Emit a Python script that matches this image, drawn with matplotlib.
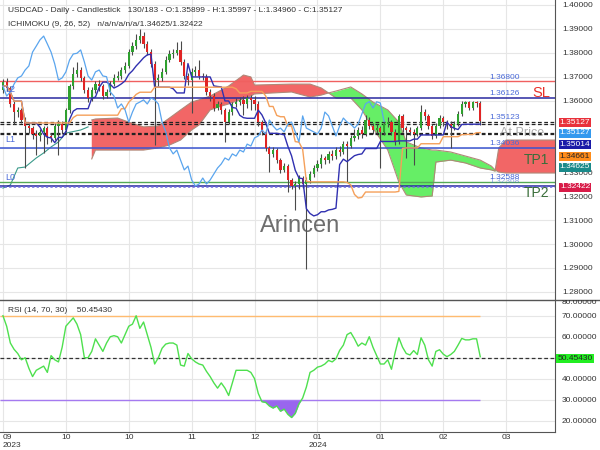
import numpy as np
import pandas as pd
import matplotlib
matplotlib.use("Agg")
import matplotlib.pyplot as plt
from matplotlib.lines import Line2D
from matplotlib.transforms import Bbox, TransformedBbox

plt.rcParams['font.family'] = ['Liberation Sans', 'DejaVu Sans']

# ---- data ----
first_open = 1.3644
closes = [
    1.3678, 1.3653, 1.3586, 1.3552, 1.3561, 1.3519, 1.3494, 1.3485, 1.3460, 1.3452,
    1.3469, 1.3485, 1.3452, 1.3444, 1.3494, 1.3502, 1.3477, 1.3561, 1.3661, 1.3711,
    1.3728, 1.3695, 1.3644, 1.3611, 1.3644, 1.3669, 1.3661, 1.3619, 1.3636, 1.3669,
    1.3695, 1.3703, 1.3728, 1.3745, 1.3803, 1.3828, 1.3854, 1.3870, 1.3837, 1.3803,
    1.3753, 1.3686, 1.3695, 1.3720, 1.3770, 1.3795, 1.3798, 1.3812, 1.3762, 1.3703,
    1.3686, 1.3720, 1.3728, 1.3703, 1.3700, 1.3636, 1.3619, 1.3569, 1.3586, 1.3561,
    1.3510, 1.3552, 1.3586, 1.3594, 1.3603, 1.3586, 1.3611, 1.3603, 1.3586, 1.3510,
    1.3469, 1.3402, 1.3377, 1.3393, 1.3351, 1.3310, 1.3326, 1.3268, 1.3243, 1.3251,
    1.3276, 1.3251, 1.3268, 1.3293, 1.3318, 1.3335, 1.3360, 1.3351, 1.3377, 1.3368,
    1.3393, 1.3385, 1.3418, 1.3410, 1.3444, 1.3452, 1.3477, 1.3460, 1.3519, 1.3494,
    1.3477, 1.3485, 1.3469, 1.3502, 1.3510, 1.3469, 1.3427, 1.3536, 1.3485, 1.3477,
    1.3469, 1.3460, 1.3485, 1.3552, 1.3536, 1.3494, 1.3452, 1.3494, 1.3527, 1.3510,
    1.3502, 1.3485, 1.3502, 1.3544, 1.3586, 1.3596, 1.3569, 1.3595, 1.35899, 1.35127,
]
highs = [
    1.3690, 1.3695, 1.3660, 1.3600, 1.3575, 1.3570, 1.3530, 1.3510, 1.3495, 1.3475,
    1.3480, 1.3495, 1.3492, 1.3465, 1.3505, 1.3520, 1.3515, 1.3570, 1.3670, 1.3740,
    1.3760, 1.3740, 1.3705, 1.3655, 1.3655, 1.3680, 1.3685, 1.3670, 1.3650, 1.3680,
    1.3710, 1.3725, 1.3740, 1.3760, 1.3815, 1.3845, 1.3880, 1.3898, 1.3885, 1.3850,
    1.3815, 1.3765, 1.3710, 1.3735, 1.3785, 1.3810, 1.3815, 1.3845, 1.3850, 1.3775,
    1.3715, 1.3735, 1.3745, 1.3770, 1.3715, 1.3710, 1.3650, 1.3630, 1.3600, 1.3595,
    1.3570, 1.3565, 1.3595, 1.3610, 1.3615, 1.3620, 1.3625, 1.3625, 1.3620, 1.3600,
    1.3520, 1.3475, 1.3410, 1.3405, 1.3400, 1.3360, 1.3340, 1.3335, 1.3275, 1.3265,
    1.3290, 1.3285, 1.3280, 1.3305, 1.3330, 1.3350, 1.3375, 1.3370, 1.3390, 1.3395,
    1.3405, 1.3410, 1.3430, 1.3430, 1.3455, 1.3480, 1.3490, 1.3495, 1.3540, 1.3530,
    1.3505, 1.3500, 1.3495, 1.3515, 1.3530, 1.3520, 1.3480, 1.3545, 1.3545, 1.3495,
    1.3490, 1.3480, 1.3495, 1.3580, 1.3565, 1.3545, 1.3500, 1.3505, 1.3540, 1.3535,
    1.3520, 1.3515, 1.3515, 1.3555, 1.3597, 1.3599, 1.3598, 1.3599, 1.3598, 1.35997,
]
lows = [
    1.3630, 1.3640, 1.3575, 1.3500, 1.3530, 1.3505, 1.3318, 1.3465, 1.3440, 1.3372,
    1.3430, 1.3380, 1.3420, 1.3425, 1.3435, 1.3372, 1.3460, 1.3470, 1.3550, 1.3650,
    1.3700, 1.3680, 1.3630, 1.3595, 1.3600, 1.3630, 1.3640, 1.3605, 1.3610, 1.3625,
    1.3660, 1.3685, 1.3690, 1.3715, 1.3735, 1.3790, 1.3815, 1.3840, 1.3820, 1.3790,
    1.3740, 1.3414, 1.3660, 1.3680, 1.3710, 1.3760, 1.3780, 1.3790, 1.3750, 1.3690,
    1.3665, 1.3548, 1.3705, 1.3690, 1.3685, 1.3625, 1.3600, 1.3555, 1.3560, 1.3545,
    1.3427, 1.3500, 1.3540, 1.3575, 1.3580, 1.3540, 1.3570, 1.3560, 1.3560, 1.3495,
    1.3455, 1.3390, 1.3301, 1.3365, 1.3340, 1.3295, 1.3300, 1.3218, 1.3230, 1.3142,
    1.3230, 1.3235, 1.2895, 1.3255, 1.3280, 1.3305, 1.3320, 1.3335, 1.3340, 1.3350,
    1.3355, 1.3370, 1.3375, 1.3259, 1.3400, 1.3430, 1.3440, 1.3445, 1.3450, 1.3480,
    1.3460, 1.3465, 1.3318, 1.3455, 1.3490, 1.3455, 1.3415, 1.3420, 1.3470, 1.3360,
    1.3455, 1.33325, 1.3450, 1.3475, 1.3520, 1.3480, 1.3440, 1.3445, 1.3485, 1.3495,
    1.3480, 1.3403, 1.3475, 1.3495, 1.3535, 1.3575, 1.3560, 1.3560, 1.3575, 1.34960,
]
rsi = [
    70, 65, 57, 54, 52, 49, 50, 45, 41, 44,
    45, 46, 43, 51, 49, 48, 55, 65, 67, 69,
    66, 61, 50, 50, 53, 59, 56, 53, 57, 60,
    60.5, 60, 57, 61, 65, 66, 70, 64, 67, 61,
    55, 47, 50, 54.5, 56.5, 57, 57, 56, 46.5, 46,
    52, 49.5, 48, 47, 46.5, 43.5, 41, 38, 35.5, 38,
    35.5, 32, 38, 44, 44, 44, 44, 43, 40, 33,
    29, 28.7, 27, 26, 27, 24.5, 25.5, 23, 21.5, 23.5,
    28, 30.8, 36, 43, 44, 45.5, 46, 47, 48.7, 48,
    49.5, 53.5, 56, 61, 62, 59, 55.5, 57, 56, 60,
    55, 51, 47, 47, 49, 44.5, 52.5, 59.5, 55, 52,
    51.3, 53.4, 51.5, 59.5, 56, 49, 46, 53, 53.8, 51.7,
    50.5, 51.5, 53, 56, 59.2, 58.5, 58.5, 59, 59, 50.4543,
]

# leading spans (cloud), read at bar positions incl. the 26 bars projected ahead
cloud_idx = [24, 25, 31, 34, 38, 42, 45, 48, 51, 53, 56, 59, 61, 64, 65, 67, 68, 78, 83,
             86, 88, 90, 94, 97, 100, 104, 107, 109, 113, 116, 117, 121, 125, 129, 132,
             133, 134, 136, 150]
lead1 = [1.3519, 1.3523, 1.3527, 1.3510, 1.3490, 1.3494, 1.3527, 1.3561, 1.3594, 1.3603,
         1.3619, 1.3644, 1.3661, 1.3695, 1.3707, 1.3699, 1.3665, 1.3669, 1.3669, 1.3653,
         1.3632, 1.3611, 1.3611, 1.3561, 1.3485, 1.3393, 1.3259, 1.3205, 1.3197, 1.3201,
         1.3343, 1.3351, 1.3339, 1.3318, 1.3310, 1.3305, 1.3402, 1.3435, 1.3435]
lead2 = [1.3356, 1.3393, 1.3393, 1.3393, 1.3393, 1.3402, 1.3414, 1.3435, 1.3477, 1.3498,
         1.3561, 1.3577, 1.3586, 1.3603, 1.3607, 1.3619, 1.3628, 1.3636, 1.3615, 1.3623,
         1.3632, 1.3640, 1.3657, 1.3628, 1.3594, 1.3561, 1.3510, 1.3427, 1.3402, 1.3393,
         1.3393, 1.3385, 1.3368, 1.3351, 1.3326, 1.3310, 1.3301, 1.3297, 1.3297]
pre_idx = [0, 2, 4, 6, 9, 11, 13, 15, 17, 21, 23]
pre_lead1 = [1.3234, 1.3247, 1.3318, 1.3322, 1.3360, 1.3381, 1.3406, 1.3427, 1.3464,
             1.3477, 1.3490]

tick_idx = [0, 17, 34, 51, 68, 85, 102, 119, 136]
tick_labels = ['09\n2023', '10', '10', '11', '12', '01\n2024', '01', '02', '03']

# ---- derived series ----
c = np.array(closes)
o = np.array([first_open] + closes[:-1])
h = np.array(highs)
l = np.array(lows)
idx = np.arange(len(c))
hs, ls = pd.Series(h), pd.Series(l)
tenkan = (hs.rolling(9, min_periods=1).max() + ls.rolling(9, min_periods=1).min()) / 2
kijun = (hs.rolling(26, min_periods=1).max() + ls.rolling(26, min_periods=1).min()) / 2

fig = plt.figure(figsize=(6, 4.5), dpi=100)
ax = fig.add_axes([0, 1 - 300 / 450, 555 / 600, 300 / 450])
ax2 = fig.add_axes([0, 18 / 450, 555 / 600, 132 / 450])

xlim = (-0.8, 149.2)
for a in (ax, ax2):
    a.set_xlim(*xlim)
    a.set_xticks(tick_idx)
    a.grid(True, color='#e6e6e6', lw=0.8)
    a.set_axisbelow(True)
    a.spines['top'].set_visible(False)
    a.spines['left'].set_visible(False)
    a.spines['right'].set_color('#555555')
    a.yaxis.tick_right()
    a.tick_params(axis='y', length=0, pad=5, labelsize=6, labelcolor='#333333')
ax.spines['bottom'].set_visible(False)
ax.tick_params(axis='x', length=0, labelbottom=False)
ax2.spines['bottom'].set_color('#555555')
ax2.set_xticklabels(tick_labels)
ax2.tick_params(axis='x', length=0, pad=1.5, labelsize=6, labelcolor='#333333')
ax2.get_xticklabels()[0].set_ha('left')

# ---- price panel ----
ax.set_ylim(1.27657, 1.40209)
yt = np.arange(1.28, 1.4001, 0.01)
ax.set_yticks(yt)
# labels at 1.34 / 1.35 sit under the value boxes
ax.set_yticklabels(['' if abs(v - 1.34) < 1e-6 or abs(v - 1.35) < 1e-6 else '%.5f' % v
                    for v in yt])

a1, a2 = np.array(lead1), np.array(lead2)
ax.fill_between(cloud_idx, a1, a2, where=a1 >= a2, interpolate=True,
                color='#f26666', lw=0, zorder=1)
ax.fill_between(cloud_idx, a1, a2, where=a1 < a2, interpolate=True,
                color='#66ee66', lw=0, zorder=1)
ax.plot(cloud_idx, lead1, color='#b08878', lw=0.8, zorder=1.5)
ax.plot(cloud_idx, lead2, color='#b08878', lw=0.8, zorder=1.5)
ax.plot(pre_idx, pre_lead1, color='#3a9a8a', lw=0.8, zorder=1.5)

# levels
ax.axhline(1.36800, color='#f06060', lw=1.0, zorder=2)
ax.axhline(1.36126, color='#2a2aa0', lw=1.1, zorder=2)
ax.axhline(1.34036, color='#3a55d0', lw=1.1, zorder=2)
ax.axhline(1.32588, color='#55aa55', lw=1.0, zorder=2)
ax.axhline(1.32422, color='#2a2aa0', lw=1.1, zorder=2)
ax.axhline(1.32368, color='#6a6ae0', lw=1.1, ls=(0, (1.5, 1.5)), zorder=2)
for v in (1.35123, 1.35014, 1.34661, 1.34590):
    ax.axhline(v, color='#222222', lw=0.9, ls=(0, (3, 2)), zorder=2)

# candles
up = c >= o
body = np.maximum(np.abs(c - o), 0.00025)
ax.vlines(idx, l, h, color='#4a4a4a', lw=0.8, zorder=4)
ax.bar(idx[up], body[up], bottom=o[up], width=0.6, color='#2fa02f', lw=0, zorder=5)
ax.bar(idx[~up], body[~up], bottom=c[~up], width=0.6, color='#e02424', lw=0, zorder=5)

# ichimoku lines
ax.plot(idx, tenkan, color='#3030b0', lw=1.0, zorder=6)
ax.plot(idx, kijun, color='#f5a05a', lw=1.0, zorder=6)
ax.plot(idx[:-26], c[26:], color='#5aa5ee', lw=0.9, zorder=6)

# level texts
lab = dict(fontsize=6, color='#4a6ad8', ha='left', va='bottom', zorder=7)
for v, s in ((1.36800, '1.36800'), (1.36126, '1.36126'), (1.35123, '1.35123'),
             (1.34036, '1.34036'), (1.32588, '1.32588')):
    ax.text(131.4, v + 0.0003, s, **lab)
ax.text(131.4, 1.32368 + 0.0010, '1.32368', fontsize=6, color='#4a6ad8', alpha=0.6,
        ha='left', va='bottom', zorder=7)
ax.text(143, 1.36318, 'SL', fontsize=10.5, color='#e8302a', va='center', zorder=7)
ax.text(140.8, 1.33514, 'TP1', fontsize=10, color='#3a6e3a', va='center', zorder=7)
ax.text(140.8, 1.32134, 'TP2', fontsize=10, color='#3a6e3a', va='center', zorder=7)
ax.text(134.3, 1.34644, 'At Price', fontsize=9, color='#888888', alpha=0.7,
        va='center', zorder=7)
for y, s in ((90, 'L2'), (140, 'L1'), (178, 'L0')):
    ax.text(5 / 555, 1 - y / 300, s, transform=ax.transAxes, fontsize=6.5,
            color='#4a6ad8', va='center', zorder=7)

ax.text(8 / 555, 1 - 10 / 300,
        'USDCAD - Daily - Candlestick   130/183 - O:1.35899 - H:1.35997 - L:1.34960 - C:1.35127',
        transform=ax.transAxes, fontsize=6, color='#333333', va='center')
ax.text(8 / 555, 1 - 25 / 300, 'ICHIMOKU (9, 26, 52)   n/a/n/a/n/a/1.34625/1.32422',
        transform=ax.transAxes, fontsize=6, color='#333333', va='center')
ax.text(300 / 555, 1 - 232 / 300, 'Arincen', transform=ax.transAxes, fontsize=17,
        color='#555555', alpha=0.85, ha='center', va='baseline', zorder=8)

# ---- RSI panel ----
ax2.set_ylim(14.6, 77.5)
rt = np.arange(20, 71, 10)
ax2.set_yticks(rt)
ax2.set_yticklabels(['' if v == 50 else '%.5f' % v for v in rt])
r = np.array(rsi)
ax2.hlines(70, xlim[0], idx[-1], color='#ffbb70', lw=1.0)
ax2.hlines(30, xlim[0], idx[-1], color='#a57af0', lw=1.0)
ax2.axhline(50, color='#333333', lw=0.9, ls=(0, (3, 2)))
ax2.fill_between(idx, r, 30, where=r < 30, interpolate=True, color='#9966ee', lw=0)
ax2.plot(idx, r, color='#4ee04e', lw=1.0)
ax2.text(8 / 555, 1 - 11 / 132, 'RSI (14, 70, 30)    50.45430', transform=ax2.transAxes,
         fontsize=6, color='#333333', va='center')

# separator between panels
fig.add_artist(Line2D([0, 1], [1 - 300 / 450] * 2, transform=fig.transFigure,
                      color='#555555', lw=1))

# value boxes on the right
boxes = [(122, '1.35127', '#e8303a', 'white'), (133, '1.35127', '#3399ee', 'white'),
         (144, '1.35014', '#1a1aa8', 'white'), (156, '1.34661', '#ff8c1a', '#222222'),
         (167, '1.34625', '#1a8a8a', 'white'), (187, '1.32422', '#d81b48', 'white'),
         (358, '50.45430', '#22ee22', '#222222')]
for y, s, bg, fg in boxes:
    fig.text(575 / 600, 1 - y / 450, s, ha='center', va='center', fontsize=6, color=fg,
             bbox=dict(boxstyle='square,pad=0.12', fc=bg, ec='none'))

# half-hidden RSI extreme labels
clip = TransformedBbox(Bbox([[0.9, 18 / 450], [1.0, 150 / 450]]), fig.transFigure)
for y, s in ((302, '80.00000'), (436, '10.00000')):
    t = fig.text(562 / 600, 1 - y / 450, s, ha='left', va='center', fontsize=6,
                 color='#333333')
    t.set_clip_box(clip)
    t.set_clip_on(True)

fig.savefig('out.png', dpi=100)
